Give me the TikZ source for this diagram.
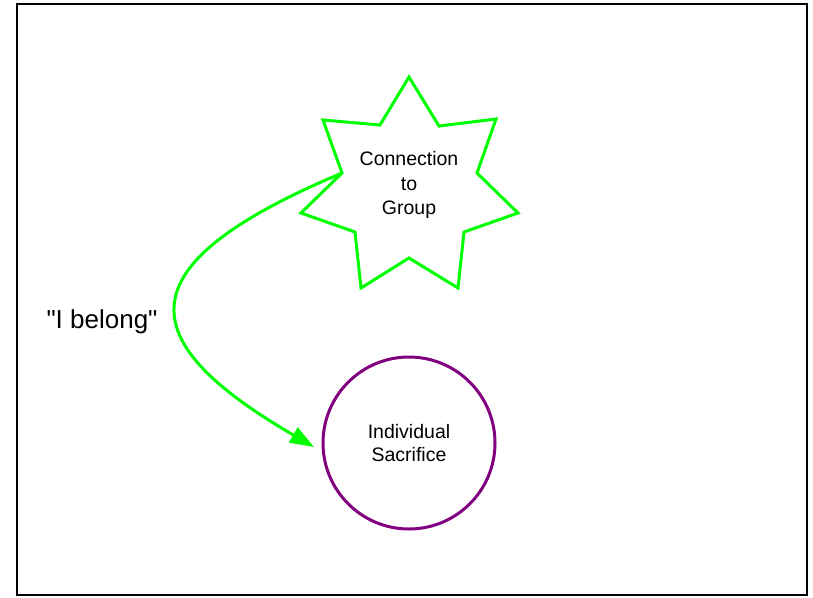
\documentclass[tikz,border=0pt]{standalone}
\usepackage{fontspec}
\setmainfont{Liberation Sans}
\newfontfamily\belfont{Liberation Sans}
\usetikzlibrary{arrows.meta}
\definecolor{lgreen}{HTML}{00FF00}
\definecolor{dpurple}{HTML}{800080}
\begin{document}
\begin{tikzpicture}[x=1pt,y=-1pt,
  frame/.style={draw=black,line width=2pt},
  starline/.style={draw=lgreen,line width=3pt,line join=miter},
  conn/.style={draw=lgreen,line width=3pt,-{Triangle[length=24pt,width=17pt]}},
  lbl/.style={font=\fontsize{19.5}{24.5}\selectfont,align=center,inner sep=0pt},
  ring/.style={circle,draw=dpurple,line width=3pt,minimum size=172pt,inner sep=0pt,
    font=\fontsize{19.5}{23}\selectfont,align=center}]
\useasboundingbox (0,0) rectangle (813,597);
\draw[frame] (17,4) rectangle (807,595);
% star vertices
\coordinate (t1) at (409,77);
\coordinate (i1) at (439,126);
\coordinate (t2) at (496,119);
\coordinate (i2) at (477,173);
\coordinate (t3) at (518,213);
\coordinate (i3) at (464,232);
\coordinate (t4) at (458,288);
\coordinate (i4) at (409,258);
\coordinate (t5) at (361,288);
\coordinate (i5) at (355,232);
\coordinate (t6) at (301,213);
\coordinate (i6) at (342,173);
\coordinate (t7) at (323,120);
\coordinate (i7) at (380,125);
\path[starline] (t1)--(i1)--(t2)--(i2)--(t3)--(i3)--(t4)--(i4)--(t5)--(i5)--(t6)--(i6)--(t7)--(i7)--cycle;
\node[lbl] (group) at (409,185) {Connection\\to\\Group};
\node[ring] (ind) at (409,443) {Individual\\Sacrifice};
\coordinate (tip) at (314,447);
\draw[conn] (i6) .. controls (123,265) and (130,340) .. (tip);
\node[font=\belfont\fontsize{26}{30}\selectfont,inner sep=0pt] (bel) at (102,322) {"I belong"};
\end{tikzpicture}
\end{document}
